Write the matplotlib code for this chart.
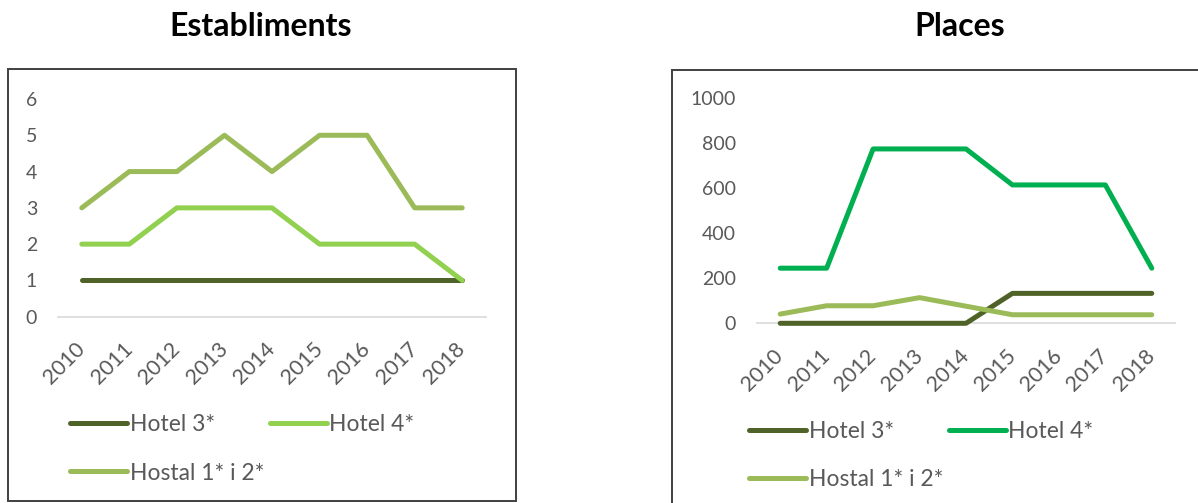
import matplotlib
matplotlib.use("Agg")
import matplotlib.pyplot as plt
from matplotlib.patches import Rectangle

plt.rcParams['font.family'] = ['Lato', 'DejaVu Sans']

years = ['2010', '2011', '2012', '2013', '2014', '2015', '2016', '2017', '2018']

# Establiments
est_hotel3 = [1, 1, 1, 1, 1, 1, 1, 1, 1]
est_hotel4 = [2, 2, 3, 3, 3, 2, 2, 2, 1]
est_hostal = [3, 4, 4, 5, 4, 5, 5, 3, 3]

# Places
pl_hotel3 = [0, 0, 0, 0, 0, 133, 133, 133, 133]
pl_hotel4 = [245, 245, 775, 775, 775, 615, 615, 615, 245]
pl_hostal = [41, 78, 78, 114, 76, 38, 38, 38, 38]

labels = ['Hotel 3*', 'Hotel 4*', 'Hostal 1* i 2*']

C_H3 = '#4F6228'
C_H4_LEFT = '#92D050'
C_H4_RIGHT = '#00B050'
C_HOSTAL = '#9BBB59'
TXT = '#595959'

W, H = 1198, 503
fig = plt.figure(figsize=(W / 100, H / 100), dpi=100)


def fx(px):
    return px / W


def fy(py):
    return 1 - py / H


# panel frames
fig.add_artist(Rectangle((fx(8), fy(501)), fx(508), (501 - 69) / H,
                         transform=fig.transFigure, fill=False,
                         edgecolor='#404040', linewidth=1.4))
fig.add_artist(Rectangle((fx(672), fy(505)), fx(540), (505 - 70) / H,
                         transform=fig.transFigure, fill=False,
                         edgecolor='#404040', linewidth=1.4))

fig.text(fx(261), fy(27), 'Establiments', ha='center', va='center',
         fontsize=23, fontweight='bold', color='black')
fig.text(fx(960), fy(27), 'Places', ha='center', va='center',
         fontsize=23, fontweight='bold', color='black')


def style_axes(ax, ymax, yticks):
    x = range(len(years))
    ax.set_xlim(-0.5, len(years) - 0.5)
    ax.set_ylim(0, ymax)
    ax.set_yticks(yticks)
    ax.set_xticks(list(x))
    ax.set_xticklabels(years, rotation=45, ha='right', va='center',
                       rotation_mode='anchor')
    for s in ['top', 'right', 'left']:
        ax.spines[s].set_visible(False)
    ax.spines['bottom'].set_color('#D9D9D9')
    ax.spines['bottom'].set_linewidth(1.2)
    ax.tick_params(axis='both', length=0, labelcolor=TXT)
    ax.tick_params(axis='y', pad=15, labelsize=14)
    ax.tick_params(axis='x', pad=21, labelsize=15.5)
    ax.patch.set_alpha(0)


def draw(ax, series, colors):
    handles = []
    for vals, c, lab in zip(series, colors, labels):
        h, = ax.plot(range(len(years)), vals, color=c, lw=3.6,
                     solid_capstyle='round', solid_joinstyle='round',
                     clip_on=False, zorder=3, label=lab)
        handles.append(h)
    return handles


# left panel
ax1 = fig.add_axes([fx(58), fy(316.7), fx(428), (316.7 - 99) / H])
style_axes(ax1, 6, range(0, 7))
h1 = draw(ax1, [est_hotel3, est_hotel4, est_hostal], [C_H3, C_H4_LEFT, C_HOSTAL])

# right panel
ax2 = fig.add_axes([fx(757), fy(323.3), fx(418), (323.3 - 98.3) / H])
style_axes(ax2, 1000, range(0, 1001, 200))
h2 = draw(ax2, [pl_hotel3, pl_hotel4, pl_hostal], [C_H3, C_H4_RIGHT, C_HOSTAL])


def legend(handles, x0, y0):
    order = [0, 2, 1]
    fig.legend([handles[i] for i in order], [labels[i] for i in order],
               ncol=2, loc='upper left', bbox_to_anchor=(fx(x0), fy(y0)),
               bbox_transform=fig.transFigure, frameon=False,
               fontsize=16.5, labelcolor=TXT, handlelength=2.5,
               handletextpad=0.1, columnspacing=0.25, labelspacing=1.2,
               borderpad=0, borderaxespad=0)


legend(h1, 70, 414)
legend(h2, 749, 421)

fig.savefig('out.png', dpi=100)
